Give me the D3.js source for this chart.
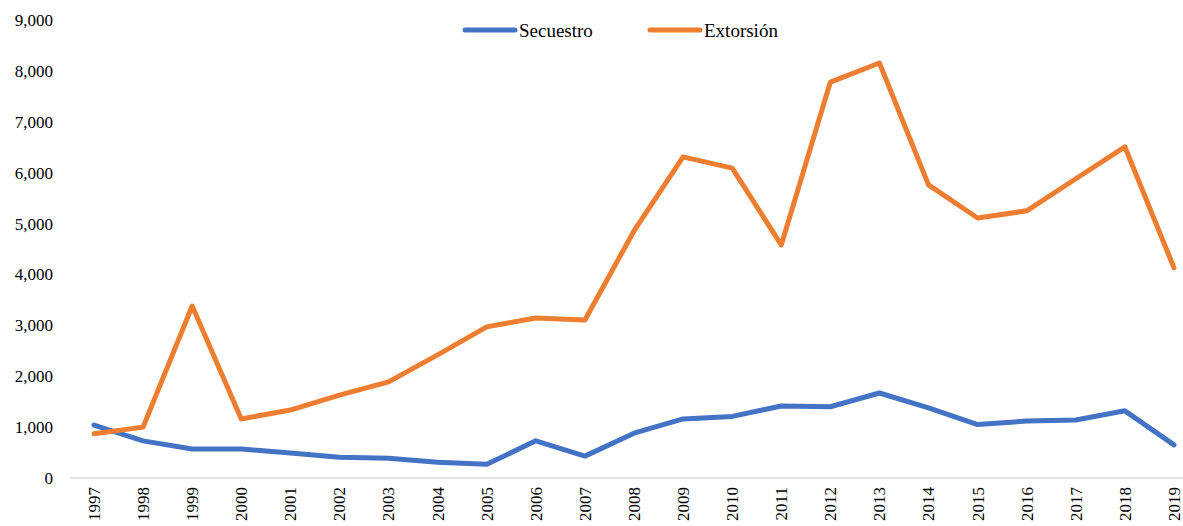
<!DOCTYPE html>
<html><head><meta charset="utf-8">
<script src="https://cdn.jsdelivr.net/npm/d3@7"></script>
<style>body{margin:0;background:#fff}svg{display:block}text{font-family:"Liberation Serif","Times New Roman",serif}</style>
</head><body>
<svg id="c" width="1183" height="526"></svg>
<script>
const years = ["1997","1998","1999","2000","2001","2002","2003","2004","2005","2006","2007","2008","2009","2010","2011","2012","2013","2014","2015","2016","2017","2018","2019"];
const secuestro = [1040,730,570,570,490,410,390,310,270,730,430,880,1160,1210,1415,1400,1670,1380,1050,1120,1140,1320,650];
const extorsion = [870,1000,3380,1160,1335,1630,1890,2420,2970,3145,3105,4855,6310,6090,4580,7780,8155,5760,5110,5250,5880,6505,4130];
const yTicks = [0,1000,2000,3000,4000,5000,6000,7000,8000,9000];
const seriesNames = ["Secuestro","Extorsión"];
const colors = ["#4472C4","#ED7D31"];

const svg = d3.select("#c");
const x = d3.scalePoint().domain(years).range([94,1174]);
const y = d3.scaleLinear().domain([0,9000]).range([478,20]);

// axis line
svg.append("line").attr("x1",70).attr("x2",1183).attr("y1",y(0)).attr("y2",y(0))
  .attr("stroke","#d9d9d9").attr("stroke-width",1.5);

// y labels
svg.append("g").selectAll("text").data(yTicks).join("text")
  .attr("x",53).attr("y",d=>y(d)).attr("dy","0.35em").attr("text-anchor","end")
  .attr("font-size",17).attr("fill","#000")
  .text(d=>d3.format(",")(d));

// x labels
svg.append("g").selectAll("text").data(years).join("text")
  .attr("transform",d=>`translate(${x(d)},487) rotate(-90)`)
  .attr("dy","0.35em").attr("text-anchor","end")
  .attr("font-size",17).attr("fill","#000")
  .text(d=>d);

const line = d3.line().x((d,i)=>x(years[i])).y(d=>y(d));
[secuestro, extorsion].forEach((s,i)=>{
  svg.append("path").datum(s).attr("d",line).attr("fill","none")
    .attr("stroke",colors[i]).attr("stroke-width",5)
    .attr("stroke-linejoin","round").attr("stroke-linecap","round");
});

// legend
const lg = [{x:463},{x:648}];
seriesNames.forEach((n,i)=>{
  svg.append("line").attr("x1",lg[i].x+2).attr("x2",lg[i].x+52).attr("y1",30).attr("y2",30)
    .attr("stroke",colors[i]).attr("stroke-width",5).attr("stroke-linecap","round");
  svg.append("text").attr("x",lg[i].x+56).attr("y",30).attr("dy","0.35em")
    .attr("font-size",19).attr("fill","#000").text(n);
});
</script>
</body></html>
